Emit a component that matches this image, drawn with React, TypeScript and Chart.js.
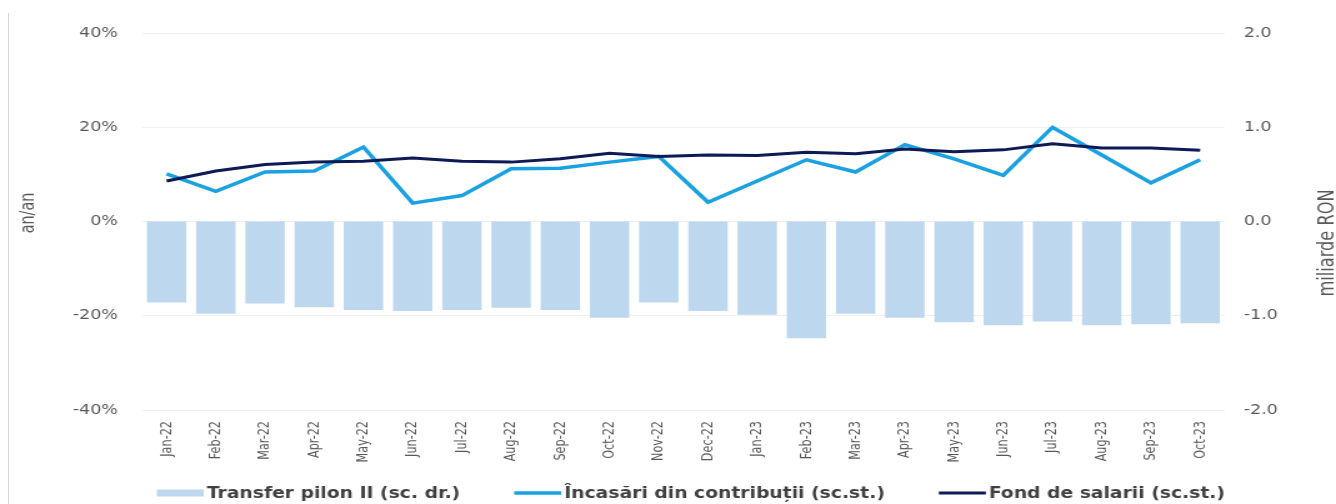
import React, { useEffect, useRef } from 'react';
import { Chart, registerables } from 'chart.js';

Chart.register(...registerables);

// ---- data ----
const categories = [
  'Jan-22', 'Feb-22', 'Mar-22', 'Apr-22', 'May-22', 'Jun-22', 'Jul-22', 'Aug-22', 'Sep-22', 'Oct-22', 'Nov-22', 'Dec-22',
  'Jan-23', 'Feb-23', 'Mar-23', 'Apr-23', 'May-23', 'Jun-23', 'Jul-23', 'Aug-23', 'Sep-23', 'Oct-23',
];

// miliarde RON (right axis)
const transferPilonII = [
  -0.86, -0.98, -0.87, -0.91, -0.94, -0.95, -0.94, -0.915, -0.94, -1.02, -0.86, -0.95,
  -0.99, -1.24, -0.98, -1.02, -1.07, -1.1, -1.06, -1.1, -1.09, -1.08,
];

// % an/an (left axis)
const incasariContributii = [
  10.1, 6.4, 10.5, 10.7, 15.8, 3.9, 5.5, 11.2, 11.3, 12.6, 13.8, 4.1,
  8.6, 13.1, 10.5, 16.3, 13.3, 9.8, 20.0, 14.1, 8.2, 13.1,
];

const fondSalarii = [
  8.6, 10.7, 12.1, 12.6, 12.8, 13.5, 12.8, 12.6, 13.3, 14.5, 13.8, 14.1,
  14.0, 14.7, 14.4, 15.4, 14.8, 15.2, 16.5, 15.6, 15.6, 15.1,
];

const leftTicks = [-40, -20, 0, 20, 40];
const rightTicks = [-2, -1, 0, 1, 2];

const seriesLabels = [
  'Transfer pilon II (sc. dr.)',
  'Încasări din contribuții (sc.st.)',
  'Fond de salarii (sc.st.)',
];
const axisTitleLeft = 'an/an';
const axisTitleRight = 'miliarde RON';

// ---- look ----
const S = 1.25; // horizontal stretch of the original picture
const SCREEN_W = 1336;
const SCREEN_H = 504;
const W = Math.round(SCREEN_W / S);
const NARROW = "'Liberation Sans Narrow', 'DejaVu Sans Condensed', 'Arial Narrow', sans-serif";
const WIDE = "'DejaVu Sans', Verdana, sans-serif";
const BAR_COLOR = '#bdd7ee';
const LIGHT_COLOR = '#1aa1e1';
const DARK_COLOR = '#0d1a56';
const TEXT_GRAY = '#595959';

const decorPlugin = {
  id: 'decor',
  afterDraw(chart: any) {
    const ctx = chart.ctx as CanvasRenderingContext2D;
    // axis titles
    ctx.save();
    ctx.fillStyle = TEXT_GRAY;
    ctx.textAlign = 'center';
    ctx.textBaseline = 'middle';
    ctx.font = `16px ${NARROW}`;
    ctx.translate(28 / S, 213);
    ctx.rotate(-Math.PI / 2);
    ctx.fillText(axisTitleLeft, 0, 0);
    ctx.restore();

    ctx.save();
    ctx.fillStyle = TEXT_GRAY;
    ctx.textAlign = 'center';
    ctx.textBaseline = 'middle';
    ctx.font = `18px ${NARROW}`;
    ctx.translate(1328 / S, 243);
    ctx.rotate(-Math.PI / 2);
    ctx.fillText(axisTitleRight, 0, 0);
    ctx.restore();

    // legend
    ctx.save();
    ctx.font = `bold 15px ${WIDE}`;
    ctx.textBaseline = 'middle';
    ctx.textAlign = 'left';
    const markerW = 47 / S;
    const markerGap = 3 / S;
    const itemGap = 54 / S;
    const items = chart.data.datasets.map((ds: any) => ({
      label: ds.label as string,
      type: ds.type as string,
      color: ds.type === 'bar' ? ds.backgroundColor : ds.borderColor,
      lw: ds.type === 'bar' ? 7 : ds.borderWidth,
      tw: ctx.measureText(ds.label).width,
    }));
    const total = items.reduce((a: number, it: any) => a + markerW + markerGap + it.tw, 0) + itemGap * (items.length - 1);
    let x = 691 / S - total / 2;
    const y = 493;
    for (const it of items) {
      ctx.fillStyle = it.color;
      ctx.fillRect(x, y - it.lw / 2, markerW, it.lw);
      x += markerW + markerGap;
      ctx.fillStyle = '#404040';
      ctx.fillText(it.label, x, y + 1);
      x += it.tw + itemGap;
    }
    ctx.restore();
  },
};

export default function App() {
  const canvasRef = useRef<HTMLCanvasElement | null>(null);

  useEffect(() => {
    if (!canvasRef.current) return;
    const chart = new Chart(canvasRef.current, {
      data: {
        labels: categories,
        datasets: [
          {
            type: 'bar',
            label: seriesLabels[0],
            data: transferPilonII,
            backgroundColor: BAR_COLOR,
            yAxisID: 'y1',
            categoryPercentage: 1,
            barPercentage: 0.8,
            order: 3,
          },
          {
            type: 'line',
            label: seriesLabels[1],
            data: incasariContributii,
            borderColor: LIGHT_COLOR,
            backgroundColor: LIGHT_COLOR,
            borderWidth: 3.5,
            pointRadius: 0,
            tension: 0,
            yAxisID: 'y',
            order: 2,
          },
          {
            type: 'line',
            label: seriesLabels[2],
            data: fondSalarii,
            borderColor: DARK_COLOR,
            backgroundColor: DARK_COLOR,
            borderWidth: 3,
            pointRadius: 0,
            tension: 0,
            yAxisID: 'y',
            order: 1,
          },
        ],
      } as any,
      options: {
        responsive: false,
        animation: false,
        devicePixelRatio: 1,
        layout: { padding: { top: 33, left: 0, right: 0, bottom: 0 } },
        plugins: {
          legend: { display: false },
          tooltip: { enabled: false },
          title: { display: false },
        },
        scales: {
          x: {
            offset: true,
            grid: { display: false, drawTicks: false },
            border: { display: false },
            ticks: {
              autoSkip: false,
              maxRotation: 90,
              minRotation: 90,
              padding: 11,
              color: TEXT_GRAY,
              font: { family: NARROW, size: 12.5 },
            },
            afterFit: (s: any) => {
              s.height = SCREEN_H - 410;
            },
          },
          y: {
            position: 'left',
            min: leftTicks[0],
            max: leftTicks[leftTicks.length - 1],
            grid: { color: '#efefef', drawTicks: false, lineWidth: 1 },
            border: { display: false },
            ticks: {
              stepSize: leftTicks[1] - leftTicks[0],
              padding: 24 / S,
              color: TEXT_GRAY,
              font: { family: WIDE, size: 14 },
              callback: (v: any) => `${v}%`,
            },
            afterFit: (s: any) => {
              s.width = 142 / S;
            },
          },
          y1: {
            position: 'right',
            min: rightTicks[0],
            max: rightTicks[rightTicks.length - 1],
            grid: { display: false, drawTicks: false },
            border: { display: false },
            ticks: {
              stepSize: rightTicks[1] - rightTicks[0],
              padding: 19 / S,
              color: TEXT_GRAY,
              font: { family: WIDE, size: 14 },
              callback: (v: any) => Number(v).toFixed(1),
            },
            afterFit: (s: any) => {
              s.width = W - 1225 / S;
            },
          },
        },
      } as any,
      plugins: [decorPlugin],
    });
    return () => chart.destroy();
  }, []);

  return (
    <div style={{ position: 'absolute', left: 0, top: 0, width: SCREEN_W, height: SCREEN_H, background: '#ffffff', overflow: 'hidden' }}>
      <canvas
        ref={canvasRef}
        width={W}
        height={SCREEN_H}
        style={{ width: `${SCREEN_W}px`, height: `${SCREEN_H}px`, display: 'block' }}
      />
      <div style={{ position: 'absolute', left: 8, top: 13, width: 1, height: SCREEN_H - 13, background: '#d6d6d6' }} />
    </div>
  );
}
